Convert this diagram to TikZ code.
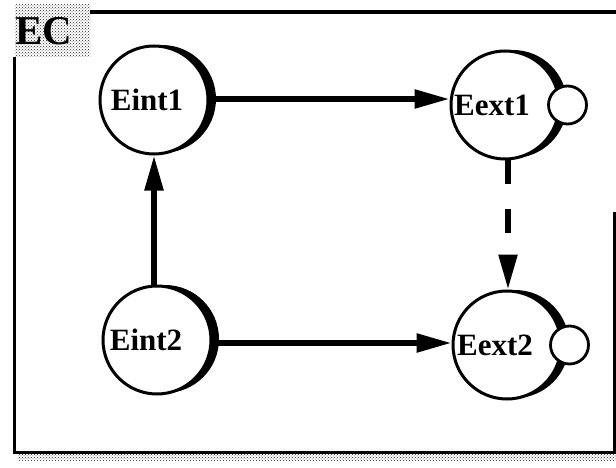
\documentclass[tikz,border=0pt]{standalone}
\usepackage{fontspec}
\setmainfont{Liberation Serif}
\usetikzlibrary{arrows.meta,patterns,shadows,positioning}

\begin{document}
\begin{tikzpicture}[x=1pt,y=-1pt,>={Triangle[length=35pt,width=18pt]},
  entity/.style={circle,draw,line width=3pt,fill=white,minimum size=108pt,inner sep=0pt,
    drop shadow={shadow xshift=8pt,shadow yshift=1pt,fill=black,opacity=1}},
  port/.style={circle,draw,line width=2.8pt,fill=white,minimum size=38pt,inner sep=0pt},
  lbl/.style={font=\bfseries\fontsize{31}{31}\selectfont,inner sep=0pt},
  flow/.style={->,line width=5.5pt}]
  \useasboundingbox (0,0) rectangle (616,468);
  % frame of the component
  \fill[pattern=crosshatch dots,pattern color=black!85] (18,453) rectangle (616,460);
  \draw[line width=3.5pt] (90,12) -- (616,12);
  \draw[line width=3pt] (614,212) -- (614,452) -- (14,452) -- (14,57);
  \fill[pattern=crosshatch dots,pattern color=black!85] (15,5) rectangle (90,57);
  \node[lbl,font=\bfseries\fontsize{41}{41}\selectfont] (ec) at (44,31) {EC};
  % entities
  \node[entity,label={[lbl,xshift=-7pt]center:Eint1}] (int1) at (154,100) {};
  \node[entity,label={[lbl,xshift=-11pt]center:Eint2}] (int2) at (157,340) {};
  \node[entity,label={[lbl,xshift=-13pt]center:Eext1}] (ext1) at (505,105) {};
  \node[entity,label={[lbl,xshift=-12pt]center:Eext2}] (ext2) at (507,345) {};
  \node[port] (p1) at ([xshift=7pt]ext1.east) {};
  \node[port] (p2) at ([xshift=7pt]ext2.east) {};
  % connectors
  \draw[flow] ([yshift=1pt]int1.east) -- ([yshift=1pt]int1.east -| ext1.west);
  \draw[flow] ([xshift=-3pt]int2.north) -- ([xshift=-3pt]int2.north |- int1.south);
  \draw[flow] ([yshift=-3pt]int2.east) -- ([yshift=-3pt]int2.east -| ext2.west);
  \draw[flow,dash pattern=on 24pt off 24pt] ([xshift=3pt]ext1.south) -- ([xshift=3pt]ext1.south |- ext2.north);
\end{tikzpicture}
\end{document}
